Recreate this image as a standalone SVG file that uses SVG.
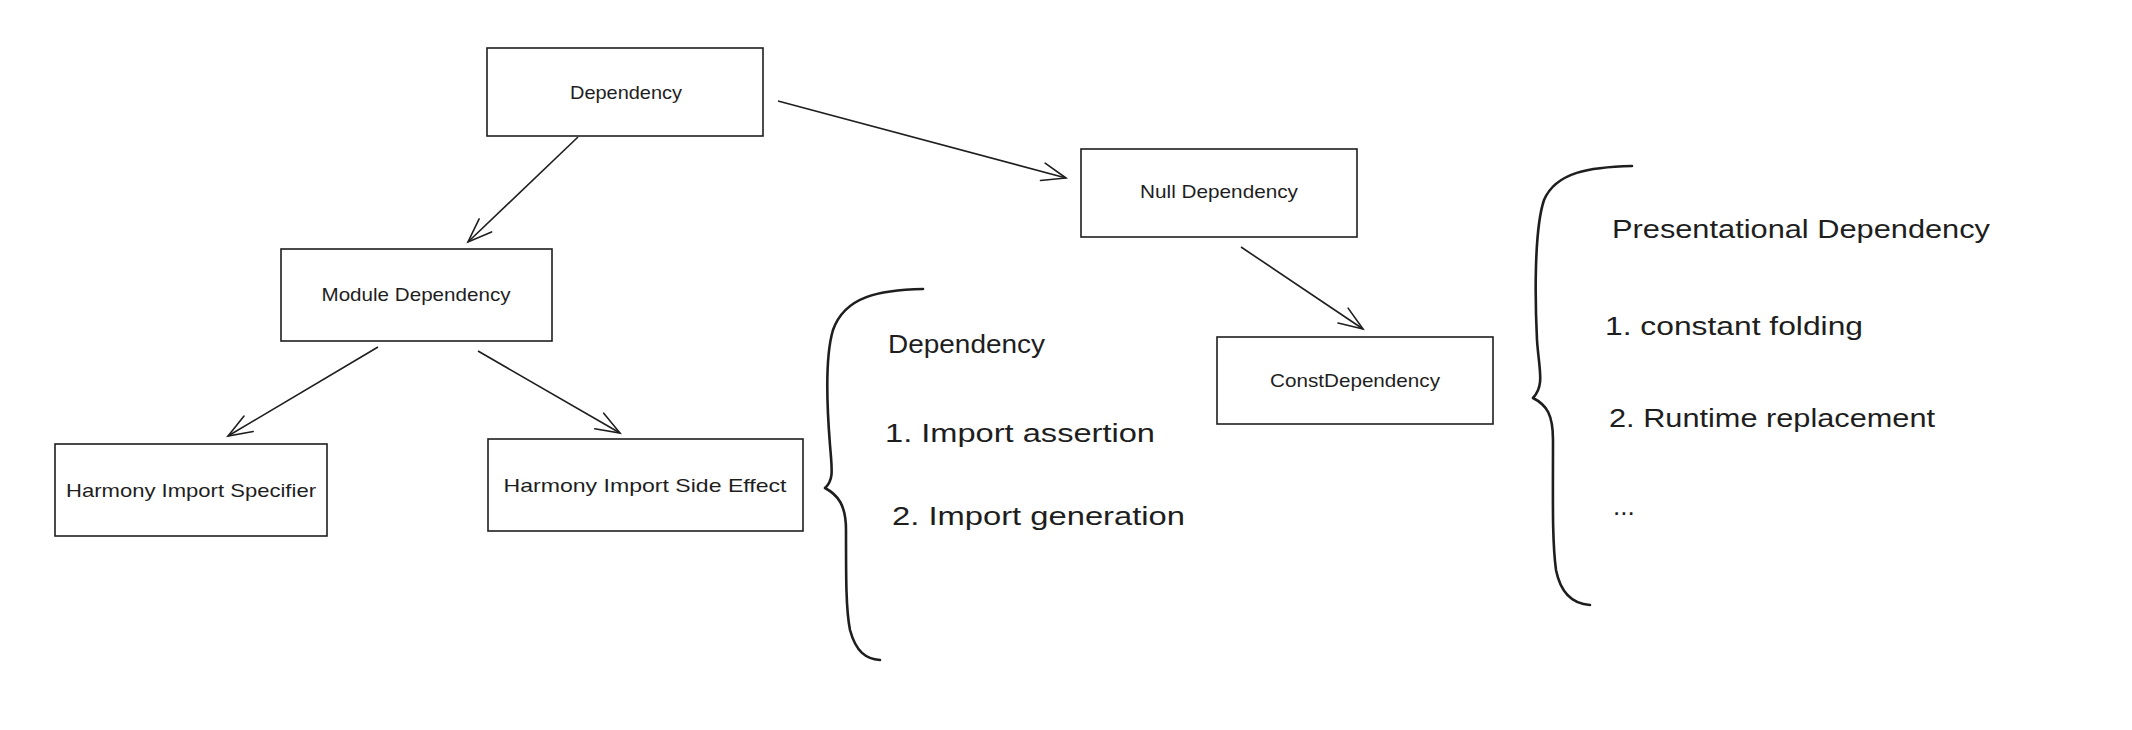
<svg xmlns="http://www.w3.org/2000/svg" width="2132" height="730" viewBox="0 0 2132 730">
<style>
.box{fill:#fff;stroke:#1e1e1e;stroke-width:1.6}
.lbl{font-family:"Liberation Sans",Arial,sans-serif;font-size:19px;fill:#1e1e1e;text-anchor:middle}
.big{font-family:"Liberation Sans",Arial,sans-serif;font-size:26px;fill:#1e1e1e}
.edge{fill:none;stroke:#1e1e1e;stroke-width:1.6;marker-end:url(#arr)}
.brace{fill:none;stroke:#1e1e1e;stroke-width:2.6;stroke-linecap:round;stroke-linejoin:round}
</style>
<defs>
<marker id="arr" viewBox="-26 -12 30 24" markerWidth="30" markerHeight="24" refX="0" refY="0" orient="auto" markerUnits="userSpaceOnUse">
<path d="M -24 -9 L 0 0 L -24 9" fill="none" stroke="#1e1e1e" stroke-width="1.6" stroke-linecap="round"/>
</marker>
</defs>
<rect width="2132" height="730" fill="#fff"/>
<g id="connectors">
<path class="edge" d="M 778 101 L 1066 178"/>
<path class="edge" d="M 578 137 L 468 242"/>
<path class="edge" d="M 1241 247 L 1363 329"/>
<path class="edge" d="M 378 347 L 228 436"/>
<path class="edge" d="M 478 351 L 620 433"/>
</g>
<g id="node-dependency">
<rect class="box" x="487" y="48" width="276" height="88"/>
<text class="lbl" x="626" y="99" textLength="112" lengthAdjust="spacingAndGlyphs">Dependency</text>
</g>
<g id="node-null">
<rect class="box" x="1081" y="149" width="276" height="88"/>
<text class="lbl" x="1219" y="198" textLength="158" lengthAdjust="spacingAndGlyphs">Null Dependency</text>
</g>
<g id="node-module">
<rect class="box" x="281" y="249" width="271" height="92"/>
<text class="lbl" x="416" y="301" textLength="189" lengthAdjust="spacingAndGlyphs">Module Dependency</text>
</g>
<g id="node-const">
<rect class="box" x="1217" y="337" width="276" height="87"/>
<text class="lbl" x="1355" y="387" textLength="170" lengthAdjust="spacingAndGlyphs">ConstDependency</text>
</g>
<g id="node-specifier">
<rect class="box" x="55" y="444" width="272" height="92"/>
<text class="lbl" x="191" y="497" textLength="250" lengthAdjust="spacingAndGlyphs">Harmony Import Specifier</text>
</g>
<g id="node-sideeffect">
<rect class="box" x="488" y="439" width="315" height="92"/>
<text class="lbl" x="645" y="492" textLength="283" lengthAdjust="spacingAndGlyphs">Harmony Import Side Effect</text>
</g>
<g id="note-dependency">
<path class="brace" d="M 923 289 C 880 290 845 296 833 330 C 824 360 828 420 830 445 C 832 470 834 480 825 488 C 838 495 846 505 846 530 C 846 580 846 610 850 630 C 856 652 866 659 880 660"/>
<text class="big" x="888" y="353" textLength="157" lengthAdjust="spacingAndGlyphs">Dependency</text>
<text class="big" x="885" y="442" textLength="270" lengthAdjust="spacingAndGlyphs">1. Import assertion</text>
<text class="big" x="892" y="525" textLength="293" lengthAdjust="spacingAndGlyphs">2. Import generation</text>
</g>
<g id="note-presentational">
<path class="brace" d="M 1632 166 C 1590 167 1556 172 1544 200 C 1534 230 1535 300 1537 340 C 1539 370 1545 385 1533 398 C 1547 405 1553 415 1553 440 C 1553 500 1552 540 1556 570 C 1561 595 1574 604 1590 605"/>
<text class="big" x="1612" y="238" textLength="378" lengthAdjust="spacingAndGlyphs">Presentational Dependency</text>
<text class="big" x="1605" y="335" textLength="258" lengthAdjust="spacingAndGlyphs">1. constant folding</text>
<text class="big" x="1609" y="427" textLength="326" lengthAdjust="spacingAndGlyphs">2. Runtime replacement</text>
<text class="big" x="1613" y="515">...</text>
</g>
</svg>
